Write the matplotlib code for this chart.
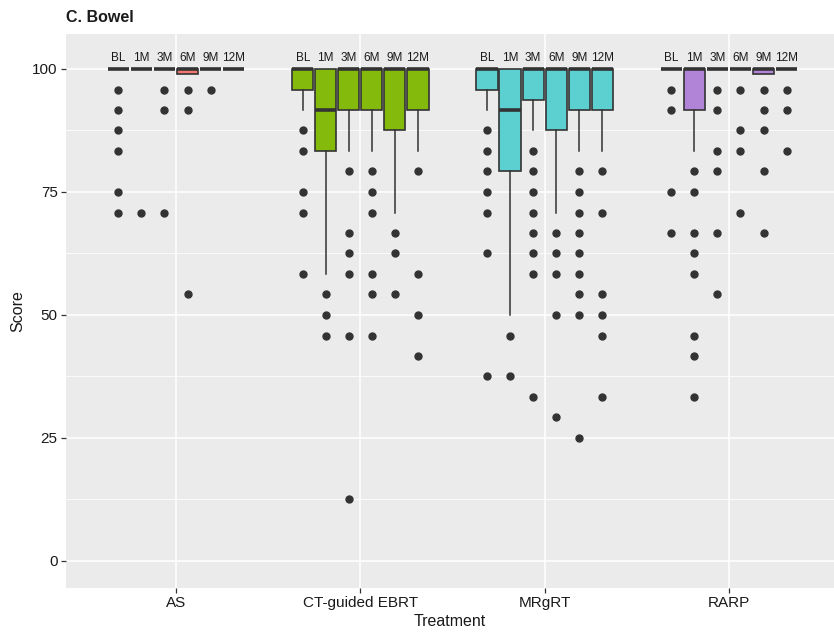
import matplotlib
matplotlib.use("Agg")
import matplotlib.pyplot as plt

plt.rcParams['font.family'] = ['Liberation Sans', 'DejaVu Sans']

treatments = ["AS", "CT-guided EBRT", "MRgRT", "RARP"]
timepoints = ["BL", "1M", "3M", "6M", "9M", "12M"]
fill_colors = {"AS": "#F0776D", "CT-guided EBRT": "#84BA0C",
               "MRgRT": "#5CCFD0", "RARP": "#B284D8"}

# Box statistics per treatment, one value per timepoint
q1 = {
    "AS": [100, 100, 100, 99.0, 100, 100],
    "CT-guided EBRT": [95.8, 83.3, 91.7, 91.7, 87.5, 91.7],
    "MRgRT": [95.8, 79.2, 93.75, 87.5, 91.7, 91.7],
    "RARP": [100, 91.7, 100, 100, 99.0, 100],
}
median = {
    "AS": [100, 100, 100, 100, 100, 100],
    "CT-guided EBRT": [100, 91.7, 100, 100, 100, 100],
    "MRgRT": [100, 91.7, 100, 100, 100, 100],
    "RARP": [100, 100, 100, 100, 100, 100],
}
q3 = {
    "AS": [100, 100, 100, 100, 100, 100],
    "CT-guided EBRT": [100, 100, 100, 100, 100, 100],
    "MRgRT": [100, 100, 100, 100, 100, 100],
    "RARP": [100, 100, 100, 100, 100, 100],
}
whisker_low = {
    "AS": [100, 100, 100, 99.0, 100, 100],
    "CT-guided EBRT": [91.7, 58.3, 83.3, 83.3, 70.8, 83.3],
    "MRgRT": [91.7, 50.0, 87.5, 70.8, 83.3, 83.3],
    "RARP": [100, 83.3, 100, 100, 99.0, 100],
}
whisker_high = {
    "AS": [100, 100, 100, 100, 100, 100],
    "CT-guided EBRT": [100, 100, 100, 100, 100, 100],
    "MRgRT": [100, 100, 100, 100, 100, 100],
    "RARP": [100, 100, 100, 100, 100, 100],
}
outliers = {
    "AS": [
        [95.8, 91.7, 87.5, 83.3, 75.0, 70.8],
        [70.8],
        [95.8, 91.7, 70.8],
        [95.8, 91.7, 54.2],
        [95.8],
        [],
    ],
    "CT-guided EBRT": [
        [87.5, 83.3, 75.0, 70.8, 58.3],
        [54.2, 50.0, 45.8],
        [79.2, 66.7, 62.5, 58.3, 45.8, 12.5],
        [79.2, 75.0, 70.8, 58.3, 54.2, 45.8],
        [66.7, 62.5, 54.2],
        [79.2, 58.3, 50.0, 41.7],
    ],
    "MRgRT": [
        [87.5, 83.3, 79.2, 75.0, 70.8, 62.5, 37.5],
        [45.8, 37.5],
        [83.3, 79.2, 75.0, 70.8, 66.7, 62.5, 58.3, 33.3],
        [66.7, 62.5, 58.3, 50.0, 29.2],
        [79.2, 75.0, 70.8, 66.7, 62.5, 58.3, 54.2, 50.0, 25.0],
        [79.2, 70.8, 54.2, 50.0, 45.8, 33.3],
    ],
    "RARP": [
        [95.8, 91.7, 75.0, 66.7],
        [79.2, 75.0, 66.7, 62.5, 58.3, 45.8, 41.7, 33.3],
        [95.8, 91.7, 83.3, 79.2, 66.7, 54.2],
        [95.8, 87.5, 83.3, 70.8],
        [95.8, 91.7, 87.5, 79.2, 66.7],
        [95.8, 91.7, 83.3],
    ],
}

fig = plt.figure(figsize=(8.34, 6.35), dpi=100)
ax = fig.add_axes([0.0791, 0.0740, 0.9209, 0.8724])
ax.set_facecolor("#EBEBEB")

slot = 0.125
box_w = 0.115
dark = "#333333"

# grid
for y in [0, 25, 50, 75, 100]:
    ax.axhline(y, color="white", lw=1.1, zorder=0)
for y in [12.5, 37.5, 62.5, 87.5]:
    ax.axhline(y, color="white", lw=0.55, zorder=0)
for i in range(len(treatments)):
    ax.axvline(i + 1, color="white", lw=1.1, zorder=0)

for i, tr in enumerate(treatments):
    stats = []
    positions = []
    for j, tp in enumerate(timepoints):
        stats.append(dict(
            q1=q1[tr][j], med=median[tr][j], q3=q3[tr][j],
            whislo=whisker_low[tr][j], whishi=whisker_high[tr][j],
            fliers=outliers[tr][j], label=tp,
        ))
        positions.append(i + 1 + (j - 2.5) * slot)
    ax.bxp(
        stats, positions=positions, widths=box_w, patch_artist=True,
        showcaps=False, manage_ticks=False,
        boxprops=dict(facecolor=fill_colors[tr], edgecolor=dark, linewidth=1.2),
        medianprops=dict(color=dark, linewidth=2.6, solid_capstyle="butt"),
        whiskerprops=dict(color=dark, linewidth=1.1),
        flierprops=dict(marker="o", markerfacecolor=dark, markeredgecolor=dark,
                        markersize=5.0, linestyle="none"),
    )
    for j, tp in enumerate(timepoints):
        ax.text(positions[j], 102.3, tp, ha="center", va="center",
                fontsize=8.5, color="#1a1a1a")

ax.set_xlim(0.403, 4.57)
ax.set_ylim(-5.49, 107.1)
ax.set_xticks(range(1, len(treatments) + 1))
ax.set_xticklabels(treatments)
ax.set_yticks([0, 25, 50, 75, 100])
ax.tick_params(axis="both", length=3.5, width=0.9, color=dark,
               labelsize=11, labelcolor="#1a1a1a", pad=2.5)
for s in ax.spines.values():
    s.set_visible(False)

ax.set_xlabel("Treatment", fontsize=11.5, labelpad=2.5, color="#1a1a1a")
ax.set_ylabel("Score", fontsize=11.5, labelpad=5, color="#1a1a1a")
fig.text(0.079, 0.972, "C. Bowel", fontsize=11.5, fontweight="bold",
         ha="left", va="center", color="#1a1a1a")

fig.savefig("out.png", dpi=100)
